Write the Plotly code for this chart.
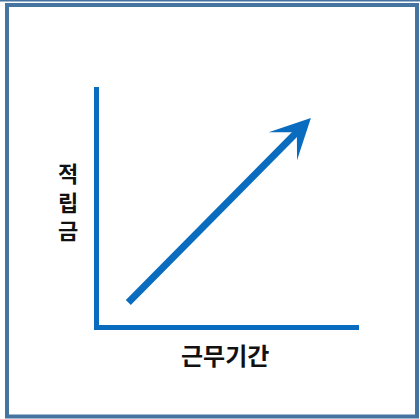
import plotly.graph_objects as go

# 개념도: 근무기간이 늘수록 적립금 증가
x_title = "근무기간"
y_title = ["적", "립", "금"]
arrow_start = [1.07, 0.88]
arrow_end = [8.15, 8.7]

W, H = 420, 419
L, R, T, B = 99, 61, 87, 94
AXIS_BLUE = "#0a6cbf"
FRAME_BLUE = "#44749f"
FONT = "Noto Sans CJK KR"


def px_x(p):
    return (p - L) / (W - L - R)


def px_y(p):
    return (H - B - p) / (H - T - B)


fig = go.Figure()
fig.add_trace(go.Scatter(x=[0, 10], y=[0, 10], mode="markers",
                         marker=dict(opacity=0), hoverinfo="skip"))

fig.add_annotation(
    x=arrow_end[0], y=arrow_end[1], ax=arrow_start[0], ay=arrow_start[1],
    xref="x", yref="y", axref="x", ayref="y",
    showarrow=True, arrowhead=3, arrowwidth=7, arrowsize=0.95,
    arrowcolor=AXIS_BLUE, text="",
)

fig.add_annotation(
    x=px_x(225), y=px_y(354.5), xref="paper", yref="paper",
    xanchor="center", yanchor="middle",
    text=x_title, showarrow=False,
    font=dict(family=FONT, size=24, color="#111", weight="bold"),
)
fig.add_annotation(
    x=px_x(67.5), y=px_y(200.5), xref="paper", yref="paper",
    xanchor="center", yanchor="middle",
    text="<br>".join(y_title), showarrow=False,
    font=dict(family=FONT, size=22, color="#111", weight="bold"),
)

# 바깥 테두리
fig.add_shape(type="rect", xref="paper", yref="paper",
              x0=px_x(7), x1=px_x(417), y0=px_y(416.5), y1=px_y(5),
              line=dict(color=FRAME_BLUE, width=4))
fig.add_shape(type="line", xref="paper", yref="paper",
              x0=px_x(0), x1=px_x(W), y0=px_y(0.7), y1=px_y(0.7),
              line=dict(color=FRAME_BLUE, width=1.5))

fig.update_xaxes(range=[0, 10], showline=True, linewidth=5, linecolor=AXIS_BLUE,
                 showgrid=False, zeroline=False, showticklabels=False, ticks="")
fig.update_yaxes(range=[0, 10], showline=True, linewidth=5, linecolor=AXIS_BLUE,
                 showgrid=False, zeroline=False, showticklabels=False, ticks="")

fig.update_layout(
    width=W, height=H,
    margin=dict(l=L, r=R, t=T, b=B),
    paper_bgcolor="white", plot_bgcolor="white",
    showlegend=False,
)

fig.write_html("out.html", config={"displayModeBar": False},
               post_script="document.body.style.margin='0';")
